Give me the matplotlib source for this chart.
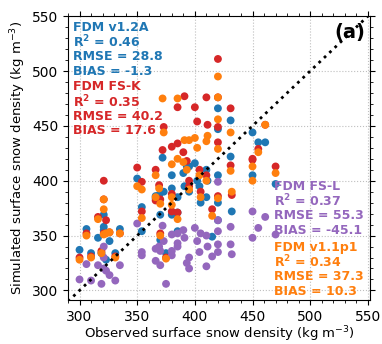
import numpy as np
import matplotlib
matplotlib.use("Agg")
import matplotlib.pyplot as plt
from matplotlib.ticker import MultipleLocator

# observed density per site and simulated density per model (kg m-3)
obs = [300, 306, 310, 316, 319, 321, 321, 321, 323, 326, 331, 335,
       350, 354, 354, 366, 366, 369, 370, 370, 372, 373, 375,
       380, 380, 380, 385, 385, 385, 390, 391, 393, 395, 395,
       400, 402, 404, 405, 410, 411, 410, 415, 420, 420, 420, 420, 420,
       431, 431, 432, 450, 450, 455, 461, 470]
fdm_v12a = [337, 356, 334, 348, 334, 369, 358, 355, 328, 345, 334, 356,
            402, 376, 354, 386, 384, 387, 369, 346, 421, 390, 334,
            393, 369, 405, 354, 385, 371, 407, 395, 413, 413, 390,
            416, 400, 395, 380, 410, 400, 385, 349, 466, 447, 380, 364, 405,
            455, 422, 372, 444, 405, 435, 435, 397]
fdm_fsk = [330, 352, 331, 367, 336, 400, 383, 352, 364, 353, 331, 352,
           412, 399, 372, 410, 382, 396, 383, 352, 428, 449, 330,
           388, 372, 431, 467, 434, 371, 426, 477, 418, 400, 395,
           467, 454, 410, 390, 476, 451, 405, 374, 511, 449, 386, 435, 476,
           466, 414, 387, 420, 419, 429, 451, 413]
fdm_fsl = [310, 324, 309, 323, 306, 340, 330, 320, 318, 314, 309, 323,
           361, 335, 332, 338, 327, 340, 336, 323, 359, 345, 306,
           351, 332, 336, 352, 343, 340, 355, 348, 325, 320, 330,
           357, 345, 335, 352, 322, 340, 350, 331, 399, 354, 342, 335, 364,
           358, 342, 333, 372, 348, 357, 367, 351]
fdm_v11p1 = [328, 350, 330, 365, 334, 383, 374, 351, 352, 353, 330, 352,
             395, 392, 366, 405, 385, 393, 379, 350, 475, 444, 329,
             385, 378, 415, 475, 420, 365, 417, 437, 410, 437, 392,
             439, 430, 405, 385, 436, 441, 400, 368, 495, 456, 384, 429, 476,
             444, 409, 390, 413, 400, 426, 451, 407]

series = [
    ("FDM v1.2A", fdm_v12a, "tab:blue", "0.46", "28.8", "-1.3"),
    ("FDM FS-K", fdm_fsk, "tab:red", "0.35", "40.2", "17.6"),
    ("FDM FS-L", fdm_fsl, "tab:purple", "0.37", "55.3", "-45.1"),
    ("FDM v1.1p1", fdm_v11p1, "tab:orange", "0.34", "37.3", "10.3"),
]

fig = plt.figure(figsize=(3.82, 3.44), dpi=100)
ax = fig.add_axes([0.178, 0.127, 0.791, 0.826])

for name, vals, col, r2, rmse, bias in series:
    ax.scatter(obs, vals, s=32, color=col, edgecolors="none", zorder=3)

ax.plot([290, 552], [290, 552], ls=":", color="k", lw=2, zorder=4)

ax.set_xlim(290, 552)
ax.set_ylim(291, 550)
ax.xaxis.set_major_locator(MultipleLocator(50))
ax.yaxis.set_major_locator(MultipleLocator(50))
ax.xaxis.set_minor_locator(MultipleLocator(10))
ax.yaxis.set_minor_locator(MultipleLocator(10))
ax.tick_params(which="both", top=True, right=True, labelsize=10)
ax.tick_params(which="major", length=3.5)
ax.tick_params(which="minor", length=2)
ax.grid(True, which="major", ls=":", color="0.75", lw=0.8, zorder=0)
ax.set_axisbelow(True)

ax.set_xlabel("Observed surface snow density (kg m$^{-3}$)", fontsize=9.5, labelpad=0.5)
ax.set_ylabel("Simulated surface snow density (kg m$^{-3}$)", fontsize=9.5, labelpad=3)

# stats text blocks
def stats_block(x, y0, name, col, r2, rmse, bias):
    lines = [name, "R$^\\mathbf{2}$ = " + r2, "RMSE = " + rmse, "BIAS = " + bias]
    for i, t in enumerate(lines):
        ax.text(x, y0 - i * 0.0515, t, transform=ax.transAxes, color=col,
                fontsize=9, fontweight="bold", va="center", ha="left", zorder=5)

stats_block(0.017, 0.961, *[series[0][k] for k in (0, 2, 3, 4, 5)])
stats_block(0.017, 0.751, *[series[1][k] for k in (0, 2, 3, 4, 5)])
stats_block(0.682, 0.400, *[series[2][k] for k in (0, 2, 3, 4, 5)])
stats_block(0.682, 0.186, *[series[3][k] for k in (0, 2, 3, 4, 5)])

ax.text(0.985, 0.975, "(a)", transform=ax.transAxes, fontsize=14,
        fontweight="bold", ha="right", va="top", zorder=5)

fig.savefig("out.png", dpi=100)
